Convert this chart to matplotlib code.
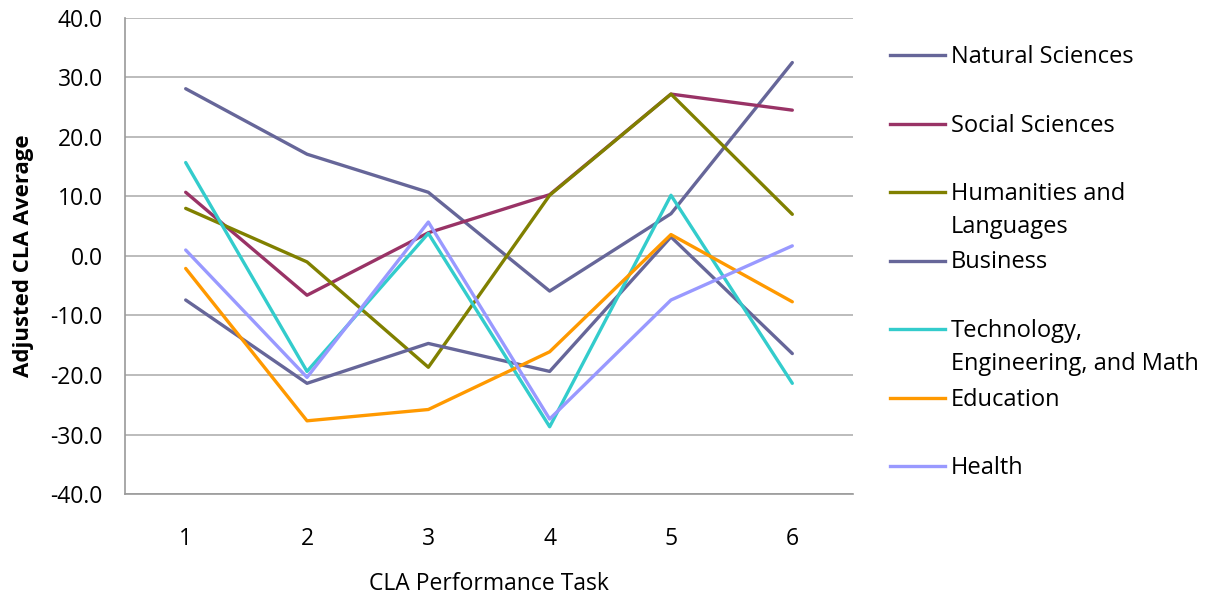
import matplotlib.pyplot as plt
from matplotlib.lines import Line2D

plt.rcParams['font.family'] = ['Open Sans', 'DejaVu Sans']

tasks = [1, 2, 3, 4, 5, 6]
natural_sciences = [28.1, 17.1, 10.7, -5.9, 7.1, 32.5]
social_sciences = [10.7, -6.6, 3.9, 10.3, 27.2, 24.5]
humanities = [8.0, -1.0, -18.7, 10.2, 27.2, 7.0]
business = [-7.4, -21.4, -14.7, -19.4, 3.2, -16.4]
tech_eng_math = [15.7, -19.4, 3.8, -28.7, 10.2, -21.4]
education = [-2.1, -27.7, -25.8, -16.1, 3.6, -7.7]
health = [1.0, -20.4, 5.7, -27.4, -7.4, 1.7]

labels = ["Natural Sciences", "Social Sciences", "Humanities and\nLanguages",
          "Business", "Technology,\nEngineering, and Math", "Education", "Health"]
colors = ["#666699", "#993366", "#808000", "#666699", "#33CCCC", "#FF9900", "#9999FF"]
series = [natural_sciences, social_sciences, humanities, business,
          tech_eng_math, education, health]

fig = plt.figure(figsize=(12.08, 5.97), dpi=100)
ax = fig.add_axes([0.1035, 0.1725, 0.6026, 0.7975])

for vals, c in zip(series, colors):
    ax.plot(tasks, vals, color=c, lw=2.4, solid_capstyle='round')

ax.set_xlim(0.5, 6.5)
ax.set_ylim(-40, 40)
ax.set_yticks(range(-40, 41, 10))
ax.set_yticklabels([f"{v:.1f}" for v in range(-40, 41, 10)])
ax.set_xticks(tasks)
ax.yaxis.grid(True, color="#b0b0b0", lw=1.2)
ax.set_axisbelow(True)
for s in ["top", "right"]:
    ax.spines[s].set_visible(False)
for s in ["left", "bottom"]:
    ax.spines[s].set_color("#999999")
    ax.spines[s].set_linewidth(1.2)
ax.tick_params(length=0, labelsize=16.5, pad=16)
ax.tick_params(axis='x', pad=24)
ax.set_ylabel("Adjusted CLA Average", fontsize=16, fontweight='bold', labelpad=12)
ax.set_xlabel("CLA Performance Task", fontsize=16.5, labelpad=15)

# legend drawn by hand to mimic the wrapped Excel legend
y0 = 1 - 55 / 597
step = 68.5 / 597
for i, (lab, c) in enumerate(zip(labels, colors)):
    y = y0 - i * step
    fig.add_artist(Line2D([890 / 1208, 945 / 1208], [y, y], color=c, lw=2.4,
                          transform=fig.transFigure))
    fig.text(951 / 1208, y + 10 / 597, lab, fontsize=17, va='top', ha='left',
             linespacing=1.5)

plt.savefig("out.png", dpi=100)
